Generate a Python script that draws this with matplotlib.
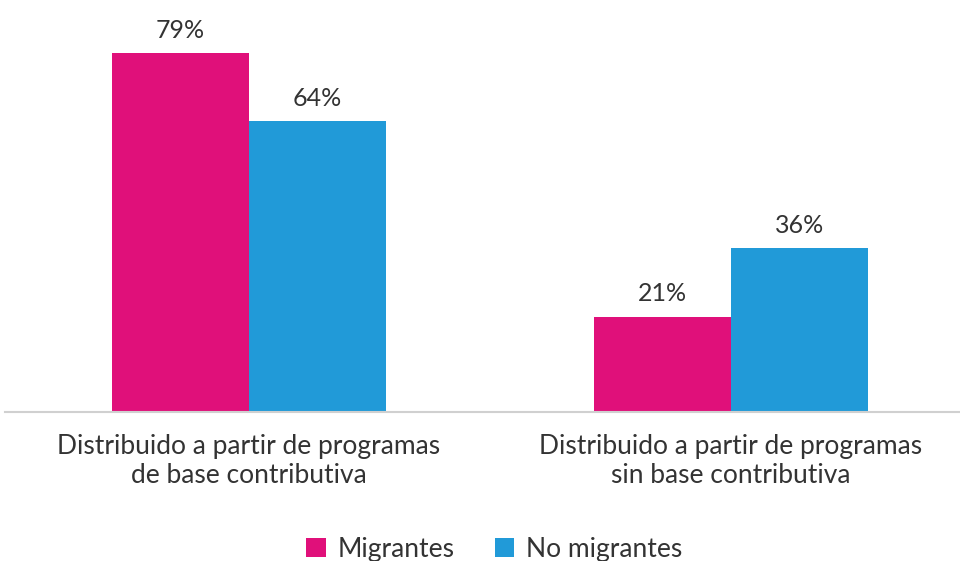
import numpy as np
import matplotlib.pyplot as plt

plt.rcParams['font.family'] = ['Lato', 'DejaVu Sans']

categories = ["Distribuido a partir de programas\nde base contributiva",
              "Distribuido a partir de programas\nsin base contributiva"]
migrantes = [79, 21]
no_migrantes = [64, 36]
series_names = ["Migrantes", "No migrantes"]
colors = ["#E0107A", "#219AD8"]

fig = plt.figure(figsize=(9.6, 5.61), dpi=100)
ax = fig.add_axes([5 / 960, (561 - 412) / 561, 955 / 960, 409 / 561])

x = np.arange(len(categories))
w = 0.284
b1 = ax.bar(x - w / 2, migrantes, w, color=colors[0], label=series_names[0])
b2 = ax.bar(x + w / 2, no_migrantes, w, color=colors[1], label=series_names[1])

for bars in (b1, b2):
    for rect in bars:
        h = rect.get_height()
        ax.annotate(f"{h:.0f}%", (rect.get_x() + rect.get_width() / 2, h),
                    xytext=(0, 8), textcoords="offset points",
                    ha="center", va="bottom", fontsize=18, color="#333333")

ax.set_xlim(-0.506, 1.475)
ax.set_ylim(0, 90)
ax.set_yticks([])
ax.set_xticks(x)
ax.set_xticklabels(categories, fontsize=19, color="#333333", linespacing=1.2)
ax.tick_params(axis="x", length=0, pad=16)
for s in ["top", "right", "left"]:
    ax.spines[s].set_visible(False)
ax.spines["bottom"].set_color("#d0d0d0")
ax.spines["bottom"].set_linewidth(1.5)

fig.legend(loc="center", bbox_to_anchor=(0.515, 1 - 549 / 561), ncol=2,
           frameon=False, fontsize=19, handlelength=0.75, handleheight=0.75,
           handletextpad=0.45, columnspacing=1.5, labelcolor="#333333")

plt.savefig("out.png", dpi=100)
